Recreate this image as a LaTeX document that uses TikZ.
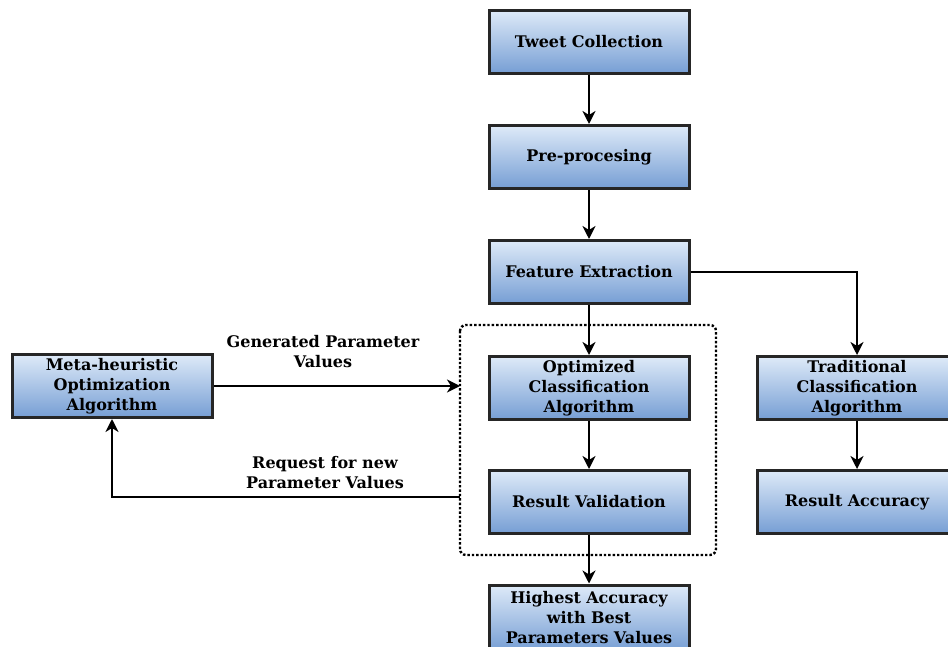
\documentclass[tikz,border=0pt]{standalone}
\usepackage{fontspec}
\setmainfont{DejaVu Serif}
\usetikzlibrary{arrows.meta,positioning}
\tikzset{
  box/.style={draw=black!85, line width=3pt, rectangle, minimum width=200pt, minimum height=63pt,
    top color={rgb,255:red,222;green,234;blue,248}, bottom color={rgb,255:red,118;green,158;blue,212},
    text width=196pt, align=center, font=\bfseries\fontsize{16}{20}\selectfont, inner sep=0pt},
  conn/.style={line width=2.8pt, -{Stealth[length=13pt,width=13pt,inset=4pt]}},
  lbl/.style={font=\bfseries\fontsize{16}{20}\selectfont, align=center}
}
\begin{document}
\begin{tikzpicture}[x=1pt,y=-1pt]
\path[use as bounding box, clip] (0,0) rectangle (948,647);
\node[box] (tc) at (589,42) {Tweet Collection};
\node[box] (pp) at (589,157) {Pre-procesing};
\node[box] (fe) at (589,272) {Feature Extraction};
\node[box] (oc) at (589,388) {Optimized\\Classification\\Algorithm};
\node[box] (rv) at (589,502) {Result Validation};
\node[box, minimum height=66pt] (ha) at (589,618) {Highest Accuracy\\with Best\\Parameters Values};
\node[box] (mh) at (112,386) {Meta-heuristic\\Optimization\\Algorithm};
\node[box] (tr) at (857,388) {Traditional\\Classification\\Algorithm};
\node[box] (ra) at (857,502) {Result Accuracy};
\draw[line width=2.4pt, dotted, rounded corners=6pt] (460,325) rectangle (716,555);
\coordinate (gin) at (460,386);
\coordinate (rout) at (460,497);
\coordinate (rcorner) at (112,497);
\coordinate (fcorner) at (857,272);
\draw[conn] (tc) -- (pp);
\draw[conn] (pp) -- (fe);
\draw[conn] (fe) -- (oc);
\draw[conn] (oc) -- (rv);
\draw[conn] (rv) -- (ha);
\draw[conn] (fe.east) -- (fcorner) -- (tr.north);
\draw[conn] (tr) -- (ra);
\draw[conn] (mh.east |- gin) -- (gin);
\draw[conn] (rout) -- (rcorner) -- (mh.south);
\node[lbl] (gl) at (323,352) {Generated Parameter\\Values};
\node[lbl] (rl) at (325,473) {Request for new\\Parameter Values};
\end{tikzpicture}
\end{document}
